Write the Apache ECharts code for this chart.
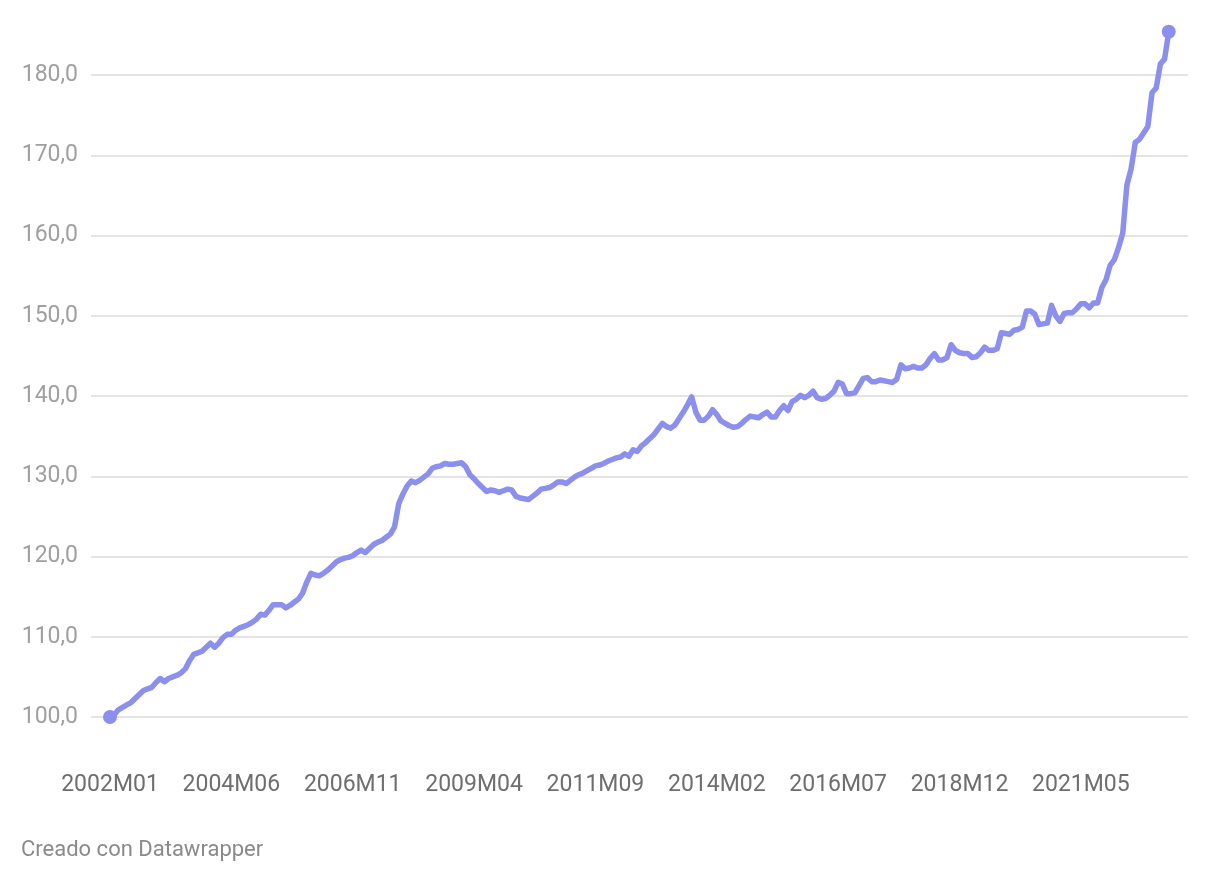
<!DOCTYPE html>
<html>
<head>
<meta charset="utf-8">
<script src="https://cdn.jsdelivr.net/npm/echarts@6/dist/echarts.min.js"></script>
<style>
  html, body { margin: 0; padding: 0; background: #fff; }
  #chart { width: 1212px; height: 884px; }
</style>
</head>
<body>
<div id="chart"></div>
<script>
// monthly index values, 2002M01 = 100
const v2002 = [100.0, 100.3, 100.9, 101.2, 101.5, 101.8, 102.3, 102.8, 103.3, 103.5, 103.7, 104.3];
const v2003 = [104.8, 104.4, 104.8, 105.0, 105.2, 105.5, 106.0, 107.0, 107.8, 108.0, 108.2, 108.7];
const v2004 = [109.2, 108.7, 109.2, 109.9, 110.3, 110.3, 110.8, 111.1, 111.3, 111.5, 111.8, 112.2];
const v2005 = [112.8, 112.7, 113.3, 114.0, 114.0, 114.0, 113.6, 113.9, 114.3, 114.7, 115.4, 116.8];
const v2006 = [117.9, 117.7, 117.6, 117.9, 118.3, 118.8, 119.3, 119.6, 119.8, 119.9, 120.1, 120.5];
const v2007 = [120.8, 120.5, 121.0, 121.5, 121.8, 122.0, 122.4, 122.8, 123.7, 126.6, 127.8, 128.8];
const v2008 = [129.4, 129.2, 129.5, 129.9, 130.3, 131.0, 131.2, 131.3, 131.6, 131.5, 131.5, 131.6];
const v2009 = [131.7, 131.2, 130.2, 129.7, 129.1, 128.6, 128.1, 128.3, 128.2, 128.0, 128.2, 128.4];
const v2010 = [128.3, 127.5, 127.3, 127.2, 127.1, 127.5, 127.9, 128.4, 128.5, 128.6, 128.9, 129.3];
const v2011 = [129.3, 129.1, 129.5, 129.9, 130.2, 130.4, 130.7, 131.0, 131.3, 131.4, 131.6, 131.9];
const v2012 = [132.1, 132.3, 132.4, 132.8, 132.5, 133.3, 133.1, 133.8, 134.2, 134.7, 135.2, 135.9];
const v2013 = [136.6, 136.2, 136.0, 136.4, 137.2, 138.0, 138.9, 139.9, 138.0, 137.0, 137.0, 137.5];
const v2014 = [138.3, 137.7, 136.9, 136.6, 136.3, 136.1, 136.2, 136.6, 137.1, 137.5, 137.4, 137.3];
const v2015 = [137.7, 138.0, 137.4, 137.4, 138.2, 138.8, 138.2, 139.3, 139.6, 140.1, 139.8, 140.1];
const v2016 = [140.6, 139.8, 139.6, 139.7, 140.1, 140.6, 141.7, 141.5, 140.3, 140.3, 140.4, 141.3];
const v2017 = [142.2, 142.3, 141.8, 141.8, 142.0, 141.9, 141.8, 141.7, 142.1, 143.9, 143.4, 143.5];
const v2018 = [143.7, 143.5, 143.5, 143.9, 144.7, 145.3, 144.5, 144.5, 144.8, 146.4, 145.7, 145.4];
const v2019 = [145.3, 145.3, 144.8, 144.9, 145.4, 146.1, 145.7, 145.7, 145.9, 147.9, 147.8, 147.7];
const v2020 = [148.2, 148.3, 148.6, 150.6, 150.6, 150.2, 148.9, 149.0, 149.1, 151.3, 150.0, 149.3];
const v2021 = [150.3, 150.4, 150.4, 150.9, 151.5, 151.5, 151.0, 151.6, 151.6, 153.5, 154.5, 156.3];
const v2022 = [157.0, 158.5, 160.3, 166.3, 168.3, 171.6, 172.0, 172.8, 173.6, 177.8, 178.4, 181.4];
const v2023 = [182.0, 185.4];

const firstYear = 2002;
const xTickLabels = ['2002M01', '2004M06', '2006M11', '2009M04', '2011M09',
  '2014M02', '2016M07', '2018M12', '2021M05'];
const yTicks = [100, 110, 120, 130, 140, 150, 160, 170, 180];

const values = [].concat(v2002, v2003, v2004, v2005, v2006, v2007, v2008, v2009,
  v2010, v2011, v2012, v2013, v2014, v2015, v2016, v2017, v2018, v2019, v2020,
  v2021, v2022, v2023);

const periods = values.map((_, i) => {
  const y = firstYear + Math.floor(i / 12);
  const m = (i % 12) + 1;
  return y + 'M' + (m < 10 ? '0' : '') + m;
});

const labelIndex = xTickLabels.map(l => periods.indexOf(l));
const lineData = values.map((v, i) => [i, v]);
const last = values.length - 1;
const endData = [[0, values[0]], [last, values[last]]];

const lineColor = '#8b8fee';
const font = 'Roboto, "Noto Sans", sans-serif';

const chart = echarts.init(document.getElementById('chart'), null, { renderer: 'canvas' });

chart.setOption({
  animation: false,
  backgroundColor: '#ffffff',
  textStyle: { fontFamily: font },
  graphic: [{
    type: 'text',
    left: 21,
    top: 839,
    style: {
      text: 'Creado con Datawrapper',
      fill: '#8a8a8a',
      font: '22px ' + font
    }
  }],
  grid: {
    left: 91,
    right: 24,
    top: 27,
    bottom: 167,
    containLabel: false
  },
  xAxis: {
    type: 'value',
    min: -4.54,
    max: last + 4.6,
    axisLine: { show: false },
    axisTick: { show: false },
    splitLine: { show: false },
    axisLabel: {
      customValues: labelIndex,
      margin: 57,
      color: '#6e6e6e',
      fontSize: 23,
      fontFamily: font,
      formatter: v => periods[Math.round(v)]
    }
  },
  yAxis: {
    type: 'value',
    min: 100,
    max: 186,
    interval: 10,
    axisLine: { show: false },
    axisTick: { show: false },
    splitLine: {
      show: true,
      showMaxLine: false,
      lineStyle: { color: '#e4e4e4', width: 2 }
    },
    axisLabel: {
      customValues: yTicks,
      margin: 13,
      color: '#a0a0a0',
      fontSize: 23,
      fontFamily: font,
      formatter: v => v.toFixed(1).replace('.', ',')
    }
  },
  series: [
    {
      type: 'line',
      data: lineData,
      showSymbol: false,
      clip: false,
      lineStyle: { color: lineColor, width: 5.5, cap: 'round', join: 'round' },
      itemStyle: { color: lineColor }
    },
    {
      type: 'scatter',
      data: endData,
      symbol: 'circle',
      symbolSize: 14,
      clip: false,
      itemStyle: { color: lineColor, opacity: 1 }
    }
  ]
});
</script>
</body>
</html>
